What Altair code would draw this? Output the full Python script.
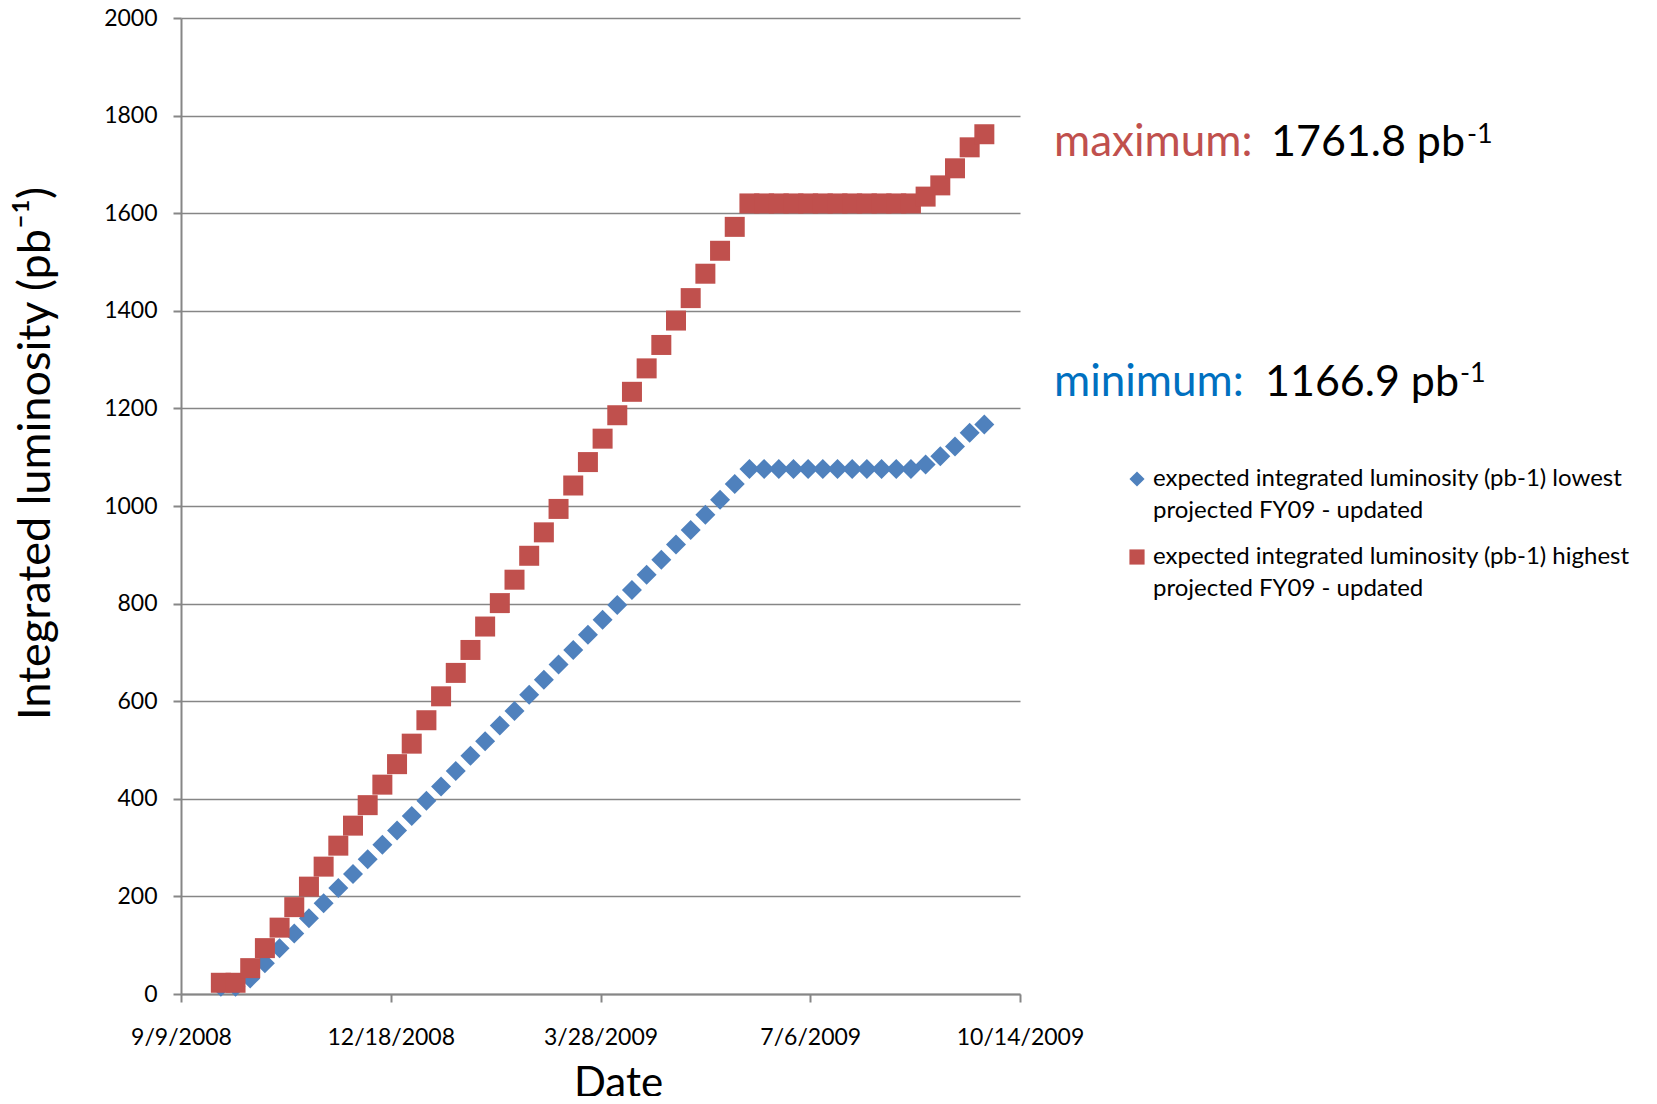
import altair as alt
import pandas as pd

# ---- data ----
dates = pd.date_range("2008-09-28", periods=53, freq="7D").strftime("%Y-%m-%d").tolist()

lowest = [15, 15, 32, 63, 94, 124, 155, 186, 217, 246, 276, 306, 335, 365, 396, 425,
          457, 488, 518, 550, 580, 613, 644, 675, 705, 736, 767, 797, 828, 859, 890,
          921, 951, 982, 1013, 1045,
          1076, 1076, 1076, 1076, 1076, 1076, 1076, 1076, 1076, 1076, 1076, 1076,
          1085, 1102, 1122, 1150, 1166.9]

highest = [23, 23, 53, 94, 136, 178, 220, 261, 304, 345, 387, 429, 471, 513, 561, 610,
           658, 705, 753, 801, 849, 898, 946, 994, 1042, 1090, 1138, 1186, 1234, 1282,
           1330, 1380, 1426, 1476, 1523, 1572,
           1620, 1620, 1620, 1620, 1620, 1620, 1620, 1620, 1620, 1620, 1620, 1620,
           1634, 1657, 1692, 1735, 1761.8]

series_names = [
    "expected integrated luminosity (pb-1) lowest projected FY09 - updated",
    "expected integrated luminosity (pb-1) highest projected FY09 - updated",
]
series_colors = ["#4F81BD", "#C0504D"]
series_shapes = ["diamond", "square"]

x_tick_dates = ["2008-09-09", "2008-12-18", "2009-03-28", "2009-07-06", "2009-10-14"]
y_ticks = [0, 200, 400, 600, 800, 1000, 1200, 1400, 1600, 1800, 2000]

annot_labels = ["maximum:", "minimum:"]
annot_label_colors = ["#C0504D", "#0070C0"]
annot_values = ["1761.8 pb", "1166.9 pb"]
annot_sup = ["-1", "-1"]

FONT = "Lato"
GRAY = "#868686"


def ms(d):
    return int(pd.Timestamp(d, tz="UTC").value // 10**6)


rows = []
for name, vals in zip(series_names, [lowest, highest]):
    for d, v in zip(dates, vals):
        rows.append({"date": d, "lum": v, "series": name})
df = pd.DataFrame(rows)

split_expr = ("[slice(datum.label, 0, indexof(datum.label, ' projected')), "
              "slice(datum.label, indexof(datum.label, ' projected') + 1)]")

legend = alt.Legend(
    title=None, orient="none", legendX=944, legendY=449, padding=0,
    labelFont=FONT, labelFontSize=24, labelColor="black", labelLimit=800,
    labelExpr=split_expr, labelOffset=4, symbolSize=230, symbolStrokeWidth=0,
    rowPadding=22,
)

points = alt.Chart(df).mark_point(filled=True, opacity=1, size=400).encode(
    x=alt.X("date:T",
            scale=alt.Scale(type="utc", domain=[ms(x_tick_dates[0]), ms(x_tick_dates[-1])]),
            axis=alt.Axis(values=[ms(d) for d in x_tick_dates], format="%-m/%-d/%Y",
                          title="Date", grid=False, tickSize=8, tickColor=GRAY, tickWidth=2,
                          domainColor=GRAY, domainWidth=2, labelFont=FONT, labelFontSize=23,
                          labelColor="black", labelPadding=24, labelFlush=False,
                          labelOverlap=False, titleFont=FONT, titleFontSize=42,
                          titleFontWeight="normal", titleColor="black",
                          titleX=437, titleY=89, titleBaseline="middle")),
    y=alt.Y("lum:Q", scale=alt.Scale(domain=[0, 2000], nice=False),
            axis=alt.Axis(values=y_ticks, format="d",
                          title="Integrated luminosity (pb\u207b\u00b9)",
                          grid=True, gridColor=GRAY, gridWidth=1.5, tickSize=8,
                          tickColor=GRAY, tickWidth=2, domainColor=GRAY, domainWidth=2,
                          labelFont=FONT, labelFontSize=23, labelColor="black",
                          labelPadding=16, titleFont=FONT, titleFontSize=45,
                          titleFontWeight="normal", titleColor="black",
                          titleX=-146, titleY=435, titleAngle=270, titleAlign="center",
                          titleBaseline="middle")),
    color=alt.Color("series:N", scale=alt.Scale(domain=series_names, range=series_colors),
                    legend=legend),
    shape=alt.Shape("series:N", scale=alt.Scale(domain=series_names, range=series_shapes),
                    legend=legend),
    order=alt.Order("series:N", sort="descending"),
)

layers = [points]
label_x = [873, 873]
label_y = [138, 378]
value_x = [1090, 1084]
sup_x = [1286, 1279]
sup_y = [125, 364]
for i in range(2):
    layers.append(alt.Chart(pd.DataFrame({"t": [annot_labels[i]]})).mark_text(
        align="left", baseline="alphabetic", font=FONT, fontSize=44,
        color=annot_label_colors[i]).encode(
        text="t:N", x=alt.value(label_x[i]), y=alt.value(label_y[i])))
    layers.append(alt.Chart(pd.DataFrame({"t": [annot_values[i]]})).mark_text(
        align="left", baseline="alphabetic", font=FONT, fontSize=43,
        color="black").encode(
        text="t:N", x=alt.value(value_x[i]), y=alt.value(label_y[i])))
    layers.append(alt.Chart(pd.DataFrame({"t": [annot_sup[i]]})).mark_text(
        align="left", baseline="alphabetic", font=FONT, fontSize=27,
        color="black").encode(
        text="t:N", x=alt.value(sup_x[i]), y=alt.value(sup_y[i])))

chart = alt.layer(*layers).properties(
    width=839, height=976,
    padding={"left": 173, "top": 10, "right": 626, "bottom": 102},
    autosize=alt.AutoSizeParams(type="none"),
    background="white",
).configure(
    style={"guide-label": {"lineHeight": 32}},
    view=alt.ViewConfig(stroke=None),
)

chart.save("out.html", embed_options={"renderer": "svg", "actions": False})
